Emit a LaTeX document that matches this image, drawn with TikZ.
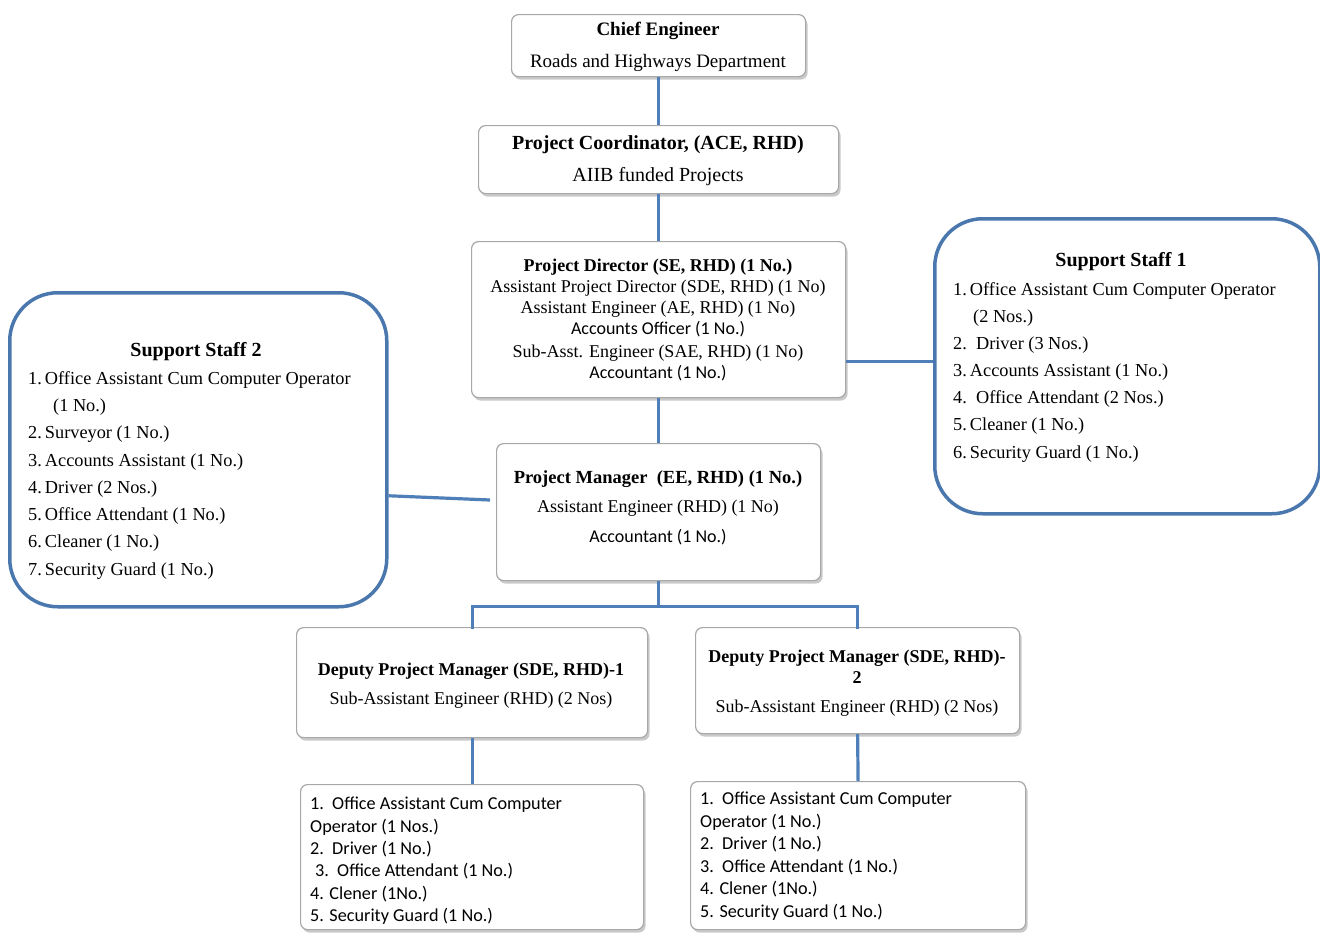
\documentclass[tikz,border=0pt]{standalone}
\usepackage{fontspec}
\setmainfont{Liberation Serif}
\newfontfamily\calib{Carlito}
\usetikzlibrary{shadows,calc}
\definecolor{conn}{HTML}{4F7FB8}
\definecolor{ssborder}{HTML}{4A78AE}
\definecolor{boxborder}{HTML}{A8A8A8}
\tikzset{
  orgbox/.style={draw=boxborder, line width=1.2pt, fill=white, rounded corners=7pt,
    inner sep=0pt, anchor=north west,
    drop shadow={shadow xshift=2pt, shadow yshift=-3pt, opacity=0.35, fill=black!60}},
  ssbox/.style={draw=ssborder, line width=3.5pt, fill=white, rounded corners=48pt,
    inner sep=0pt, anchor=north west},
  link/.style={draw=conn, line width=3.2pt},
  tx/.style={inner sep=0pt, anchor=base, font=\fontsize{18}{20}\selectfont},
  txl/.style={inner sep=0pt, anchor=base west, font=\fontsize{18.3}{20}\selectfont},
  sx/.style={inner sep=0pt, anchor=base, font=\calib\fontsize{18}{20}\selectfont},
  sxl/.style={inner sep=0pt, anchor=base west, font=\calib\fontsize{18.2}{20}\selectfont},
}
\begin{document}
\begin{tikzpicture}[x=1pt,y=-1pt]
\useasboundingbox (0,0) rectangle (1320,932);
\fill[white] (0,0) rectangle (1320,932);

% boxes
\node[orgbox, minimum width=294pt, minimum height=62pt] (chief) at (511,14) {};
\node[orgbox, minimum width=360pt, minimum height=68pt] (pc) at (478,125) {};
\node[orgbox, minimum width=374pt, minimum height=156pt] (pd) at (471,241) {};
\node[orgbox, minimum width=324pt, minimum height=137pt] (pm) at (496,443) {};
\node[orgbox, minimum width=351pt, minimum height=110pt] (dpm1) at (296,627) {};
\node[orgbox, minimum width=324pt, minimum height=106pt] (dpm2) at (695,627) {};
\node[orgbox, minimum width=343pt, minimum height=145pt] (list1) at (300,784) {};
\node[orgbox, minimum width=335pt, minimum height=148pt] (list2) at (690,781) {};
\node[ssbox, minimum width=385pt, minimum height=295pt] (ss1) at (933,217) {};
\node[ssbox, minimum width=377pt, minimum height=314pt] (ss2) at (8,291) {};

% connectors
\coordinate (pdout) at ($(pd.east)+(0,42)$);
\coordinate (ss2out) at ($(ss2.east)+(0,46)$);
\coordinate (pmin) at (490,500);
\coordinate (split) at ($(pm.south)+(0,25)$);
\draw[link] (chief.south) -- (pc.north);
\draw[link] (pc.south) -- (pd.north);
\draw[link] (pd.south) -- (pm.north);
\draw[link] (pdout) -- (ss1.west |- pdout);
\draw[link] (ss2out) -- (pmin);
\draw[link] (pm.south) -- (split);
\draw[link, line cap=rect] (split) -| (dpm1.north);
\draw[link, line cap=rect] (split) -| (dpm2.north);
\draw[link] (dpm1.south) -- (list1.north);
\draw[link] (dpm2.south) -- (list2.north);

% Chief Engineer
\node[tx, font=\bfseries\fontsize{19}{20}\selectfont] (t1) at (658,35) {Chief Engineer};
\node[tx, font=\fontsize{19}{20}\selectfont] (t2) at (658,67) {Roads and Highways Department};
% Project Coordinator
\node[tx, font=\bfseries\fontsize{20}{20}\selectfont] (t3) at (658,149) {Project Coordinator, (ACE, RHD)};
\node[tx, font=\fontsize{20}{20}\selectfont] (t4) at (658,181) {AIIB funded Projects};
% Project Director
\node[tx, font=\bfseries\fontsize{18}{20}\selectfont] (t5) at (658,271) {Project Director (SE, RHD) (1 No.)};
\node[tx] (t6) at (658,292) {Assistant Project Director (SDE, RHD) (1 No)};
\node[tx] (t7) at (658,313) {Assistant Engineer (AE, RHD) (1 No)};
\node[sx] (t8) at (658,334) {Accounts Officer (1 No.)};
\node[tx] (t9) at (658,357) {Sub-Asst. Engineer (SAE, RHD) (1 No)};
\node[sx] (t10) at (658,378) {Accountant (1 No.)};
% Project Manager
\node[tx, font=\bfseries\fontsize{18.5}{20}\selectfont] (t11) at (658,483) {Project Manager \ (EE, RHD) (1 No.)};
\node[tx] (t12) at (658,512) {Assistant Engineer (RHD) (1 No)};
\node[sx] (t13) at (658,542) {Accountant (1 No.)};
% Deputy PM 1
\node[tx, font=\bfseries\fontsize{18}{20}\selectfont] (t14) at (471,675) {Deputy Project Manager (SDE, RHD)-1};
\node[tx] (t15) at (471,704) {Sub-Assistant Engineer (RHD) (2 Nos)};
% Deputy PM 2
\node[tx, font=\bfseries\fontsize{18}{20}\selectfont] (t16) at (857,662) {Deputy Project Manager (SDE, RHD)-};
\node[tx, font=\bfseries\fontsize{18}{20}\selectfont] (t17) at (857,683) {2};
\node[tx] (t18) at (857,712) {Sub-Assistant Engineer (RHD) (2 Nos)};
% List 1
\node[sxl] (a1) at (310,809) {1.\ \ Office Assistant Cum Computer};
\node[sxl] (a2) at (310,832) {Operator (1 Nos.)};
\node[sxl] (a3) at (310,854) {2.\ \ Driver (1 No.)};
\node[sxl] (a4) at (315,876) {3.\ \ Office Attendant (1 No.)};
\node[sxl] (a5) at (310,899) {4. Clener (1No.)};
\node[sxl] (a6) at (310,921) {5. Security Guard (1 No.)};
% List 2
\node[sxl] (b1) at (700,804) {1.\ \ Office Assistant Cum Computer};
\node[sxl] (b2) at (700,827) {Operator (1 No.)};
\node[sxl] (b3) at (700,849) {2.\ \ Driver (1 No.)};
\node[sxl] (b4) at (700,872) {3.\ \ Office Attendant (1 No.)};
\node[sxl] (b5) at (700,894) {4. Clener (1No.)};
\node[sxl] (b6) at (700,917) {5. Security Guard (1 No.)};
% Support Staff 1
\node[tx, font=\bfseries\fontsize{20}{20}\selectfont] (s1t) at (1121,266) {Support Staff 1};
\node[txl] (s11) at (953,295) {1.\,Office Assistant Cum Computer Operator};
\node[txl] (s12) at (973,322) {(2 Nos.)};
\node[txl] (s13) at (953,349) {2.\ \ Driver (3 Nos.)};
\node[txl] (s14) at (953,376) {3.\,Accounts Assistant (1 No.)};
\node[txl] (s15) at (953,403) {4.\ \ Office Attendant (2 Nos.)};
\node[txl] (s16) at (953,430) {5.\,Cleaner (1 No.)};
\node[txl] (s17) at (953,458) {6.\,Security Guard (1 No.)};
% Support Staff 2
\node[tx, font=\bfseries\fontsize{20}{20}\selectfont] (s2t) at (196,356) {Support Staff 2};
\node[txl] (s21) at (28,384) {1.\,Office Assistant Cum Computer Operator};
\node[txl] (s22) at (53,411) {(1 No.)};
\node[txl] (s23) at (28,438) {2.\,Surveyor (1 No.)};
\node[txl] (s24) at (28,466) {3.\,Accounts Assistant (1 No.)};
\node[txl] (s25) at (28,493) {4.\,Driver (2 Nos.)};
\node[txl] (s26) at (28,520) {5.\,Office Attendant (1 No.)};
\node[txl] (s27) at (28,547) {6.\,Cleaner (1 No.)};
\node[txl] (s28) at (28,575) {7.\,Security Guard (1 No.)};
\end{tikzpicture}
\end{document}
